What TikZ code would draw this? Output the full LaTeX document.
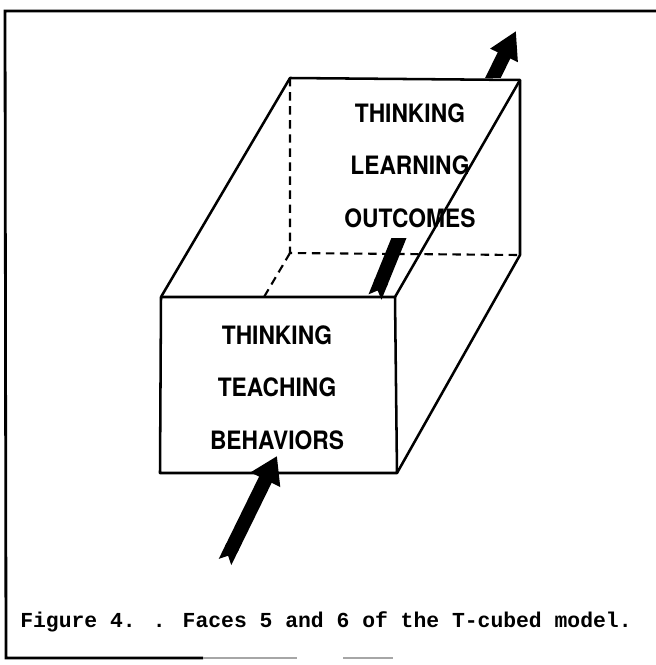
\documentclass[tikz,border=0pt]{standalone}
\usepackage{fontspec}
\newfontfamily\facefont[FakeStretch=0.9]{TeX Gyre Heros}
\newfontfamily\capfont{Liberation Mono}
\usetikzlibrary{arrows.meta,positioning}

\begin{document}
\begin{tikzpicture}[
  x=0.025cm, y=-0.025cm,
  node distance=0.93cm,
  frame/.style={line width=2pt},
  edge/.style={line width=1.8pt, line join=round},
  hidden/.style={line width=1.5pt, dash pattern=on 6pt off 4pt},
  facetext/.style={inner sep=0pt, text height=0.37cm, text depth=0pt, font=\facefont\bfseries\fontsize{18}{20}\selectfont},
  bigarrow/.style={line width=0.35cm, arrows={Triangle Cap[reversed]-Triangle[width=0.78cm,length=0.66cm]}},
  tailarrow/.style={line width=0.35cm, arrows={Triangle Cap[reversed]-}},
  headarrow/.style={line width=0.35cm, arrows={-Triangle[width=0.72cm,length=0.68cm]}}
]
\useasboundingbox (0,0) rectangle (656,665);

% Frame
\coordinate (ftl) at (5,11);
\coordinate (ftr) at (656,11);
\coordinate (fbl) at (6,658);
\coordinate (fbm) at (203,658);
\draw[frame] (ftr) -- (ftl) -- (fbl) -- (fbm);
\draw[line width=1pt, black!35] (fbm) -- (297,658);
\draw[line width=1pt, black!35] (343,658) -- (393,658);

% Corners of the box
\coordinate (ntl) at (161,297);
\coordinate (ntr) at (395,297);
\coordinate (nbr) at (397,473);
\coordinate (nbl) at (160,473);
\coordinate (btl) at (290,78);
\coordinate (btr) at (520,80);
\coordinate (bbr) at (520,255);
\coordinate (bbl) at (290,253);

% Hidden edges
\draw[hidden] (btl) -- (bbl) -- (bbr);
\draw[hidden] (bbl) -- (nbl);

% Front face
\draw[edge, fill=white] (ntl) -- (ntr) -- (nbr) -- (nbl) -- cycle;

% Visible edges
\draw[edge] (ntl) -- (btl) -- (btr) -- (bbr) -- (nbr);
\draw[edge] (ntr) -- (btr);

% Face 5
\node[facetext] (teach1) at (277,337) {THINKING};
\node[facetext, below=of teach1] (teach2) {TEACHING};
\node[facetext, below=of teach2] (teach3) {BEHAVIORS};

% Face 6
\node[facetext] (learn1) at (410,115) {THINKING};
\node[facetext, below=of learn1] (learn2) {LEARNING};
\node[facetext, below=of learn2] (learn3) {OUTCOMES};

% Arrow through the box
\coordinate (inA) at (225,562);
\coordinate (inB) at (277,456);
\coordinate (midA) at (375,297);
\coordinate (midB) at (403,228);
\coordinate (outA) at (488,88);
\coordinate (outB) at (516,31);
\draw[bigarrow] (inA) -- (inB);
\begin{scope}
  \clip (0,238) rectangle (656,665);
  \draw[tailarrow] (midA) -- (midB);
\end{scope}
\begin{scope}
  \clip (0,0) rectangle (656,77);
  \draw[headarrow] (outA) -- (outB);
\end{scope}

% Caption
\node[anchor=west, inner sep=0pt, font=\capfont\bfseries\fontsize{15.2}{17}\selectfont] (caption) at (20,622) {Figure 4. . Faces 5 and 6 of the T-cubed model.};

\end{tikzpicture}
\end{document}
